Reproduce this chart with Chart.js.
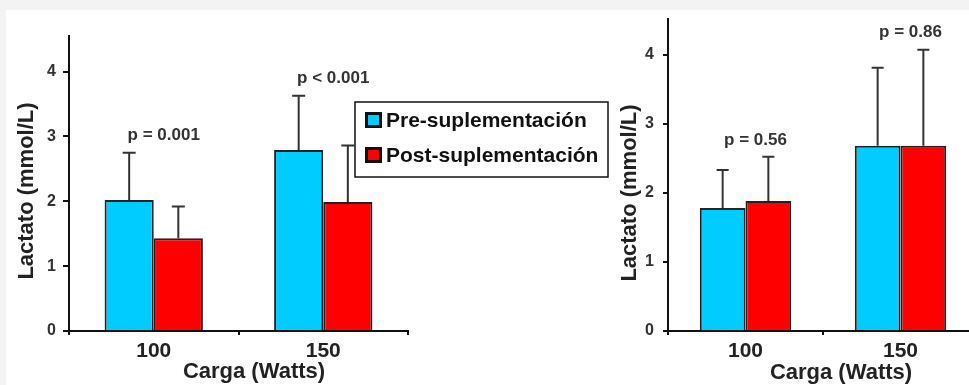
<!DOCTYPE html>
<html>
<head>
<meta charset="utf-8">
<script src="https://cdn.jsdelivr.net/npm/chart.js@4.4.1/dist/chart.umd.min.js"></script>
<style>
  html, body { margin: 0; padding: 0; }
  body { width: 969px; height: 385px; overflow: hidden; background: #f3f3f3; position: relative; }
  #card { position: absolute; left: 6px; top: 10px; right: 0; bottom: 0; background: #fff; }
  canvas { position: absolute; top: 0; }
  #left { left: 0; }
  #right { left: 612px; }
</style>
</head>
<body>
<div id="card"></div>
<canvas id="left" width="615" height="385"></canvas>
<canvas id="right" width="366" height="385"></canvas>
<script>
// Data
const categories = ['100', '150'];
const seriesNames = ['Pre-suplementación', 'Post-suplementación'];
const yTicks = [0, 1, 2, 3, 4];

const leftPre = [2.02, 2.79];
const leftPreSd = [0.73, 0.84];
const leftPost = [1.43, 1.99];
const leftPostSd = [0.49, 0.87];
const leftP = ['p = 0.001', 'p < 0.001'];

const rightPre = [1.78, 2.68];
const rightPreSd = [0.55, 1.13];
const rightPost = [1.88, 2.68];
const rightPostSd = [0.64, 1.39];
const rightP = ['p = 0.56', 'p = 0.86'];

const xTitle = 'Carga (Watts)';
const yTitle = 'Lactato (mmol/L)';

const blue = '#00ccff';
const red = '#ff0000';
const FONT = '"Liberation Sans", Arial, sans-serif';

// error bars + p values drawn from the scales
const errorBars = {
  id: 'errorBars',
  afterDatasetsDraw(chart, args, opts) {
    const ctx = chart.ctx;
    const y = chart.scales.y;
    const x = chart.scales.x;
    ctx.save();
    ctx.strokeStyle = '#333';
    ctx.lineWidth = 2;
    chart.data.datasets.forEach((ds, i) => {
      chart.getDatasetMeta(i).data.forEach((bar, j) => {
        const top = y.getPixelForValue(ds.data[j] + ds.sd[j]);
        ctx.beginPath();
        ctx.moveTo(bar.x, bar.y);
        ctx.lineTo(bar.x, top);
        ctx.moveTo(bar.x - opts.cap / 2, top);
        ctx.lineTo(bar.x + opts.cap / 2, top);
        ctx.stroke();
      });
    });
    ctx.fillStyle = '#333';
    ctx.font = 'bold 17px ' + FONT;
    ctx.textAlign = 'center';
    ctx.textBaseline = 'middle';
    opts.labels.forEach((txt, j) => {
      let hi = 0;
      chart.data.datasets.forEach(ds => { hi = Math.max(hi, ds.data[j] + ds.sd[j]); });
      ctx.fillText(txt, x.getPixelForValue(j) + opts.dx, y.getPixelForValue(hi) - 17);
    });
    ctx.restore();
  }
};

// axis titles
const axisTitles = {
  id: 'axisTitles',
  afterDraw(chart, args, opts) {
    const ctx = chart.ctx;
    ctx.save();
    ctx.fillStyle = '#222';
    ctx.font = 'bold 22px ' + FONT;
    ctx.textAlign = 'center';
    ctx.textBaseline = 'middle';
    ctx.fillText(xTitle, opts.xPos[0], opts.xPos[1]);
    ctx.translate(opts.yPos[0], opts.yPos[1]);
    ctx.rotate(-Math.PI / 2);
    ctx.fillText(yTitle, 0, 0);
    ctx.restore();
  }
};

// boxed legend
const boxLegend = {
  id: 'boxLegend',
  afterDraw(chart, args, opts) {
    if (!opts.show) return;
    const ctx = chart.ctx;
    ctx.save();
    ctx.strokeStyle = '#111';
    ctx.lineWidth = 1.5;
    ctx.strokeRect(355, 102, 253, 75);
    ctx.font = 'bold 21px ' + FONT;
    ctx.textBaseline = 'middle';
    chart.data.datasets.forEach((ds, i) => {
      const cy = 120 + i * 35;
      ctx.fillStyle = '#111';
      ctx.fillRect(365, cy - 8, 17, 16);
      ctx.fillStyle = ds.backgroundColor;
      ctx.fillRect(368, cy - 5, 11, 10);
      ctx.fillStyle = '#111';
      ctx.fillText(ds.label, 386, cy + 1);
    });
    ctx.restore();
  }
};

function makeChart(id, pre, preSd, post, postSd, pLabels, cfg) {
  return new Chart(document.getElementById(id), {
    type: 'bar',
    data: {
      labels: categories,
      datasets: [
        { label: seriesNames[0], data: pre, sd: preSd, backgroundColor: blue, borderColor: '#222', borderWidth: 2 },
        { label: seriesNames[1], data: post, sd: postSd, backgroundColor: red, borderColor: '#222', borderWidth: 2 }
      ]
    },
    options: {
      responsive: false,
      animation: false,
      categoryPercentage: cfg.catPct,
      barPercentage: 1.0,
      layout: { padding: { top: cfg.top, right: cfg.padRight, bottom: 0, left: 0 } },
      plugins: {
        legend: { display: false },
        tooltip: { enabled: false },
        errorBars: { cap: cfg.cap, labels: pLabels, dx: 10 },
        axisTitles: { xPos: cfg.xTitlePos, yPos: cfg.yTitlePos },
        boxLegend: { show: cfg.legend }
      },
      scales: {
        x: {
          afterFit: s => { s.height = 54; },
          grid: { drawOnChartArea: false, drawTicks: true, tickLength: 4, color: '#111', lineWidth: 2 },
          border: { display: true, color: '#111', width: 2 },
          ticks: { color: '#222', padding: 4, font: { family: FONT, size: 21, weight: 'bold' } }
        },
        y: {
          min: 0,
          max: cfg.max,
          afterFit: s => { s.width = cfg.yWidth; },
          afterBuildTicks: s => { s.ticks = yTicks.map(v => ({ value: v })); },
          grid: { drawOnChartArea: false, drawTicks: true, tickLength: cfg.tickLen, color: '#111', lineWidth: 2 },
          border: { display: true, color: '#111', width: 2 },
          ticks: { color: '#333', padding: cfg.tickPad, font: { family: FONT, size: 16, weight: 'bold' } }
        }
      }
    },
    plugins: [errorBars, axisTitles, boxLegend]
  });
}

makeChart('left', leftPre, leftPreSd, leftPost, leftPostSd, leftP, {
  catPct: 0.58, top: 36, padRight: 207, max: 4.55, yWidth: 69, tickLen: 6, tickPad: 7, cap: 13,
  xTitlePos: [254, 372], yTitlePos: [27, 191], legend: true
});

makeChart('right', rightPre, rightPreSd, rightPost, rightPostSd, rightP, {
  catPct: 0.59, top: 17, padRight: 0, max: 4.52, yWidth: 56, tickLen: 5, tickPad: 9, cap: 12,
  xTitlePos: [229, 373], yTitlePos: [18, 193], legend: false
});
</script>
</body>
</html>
